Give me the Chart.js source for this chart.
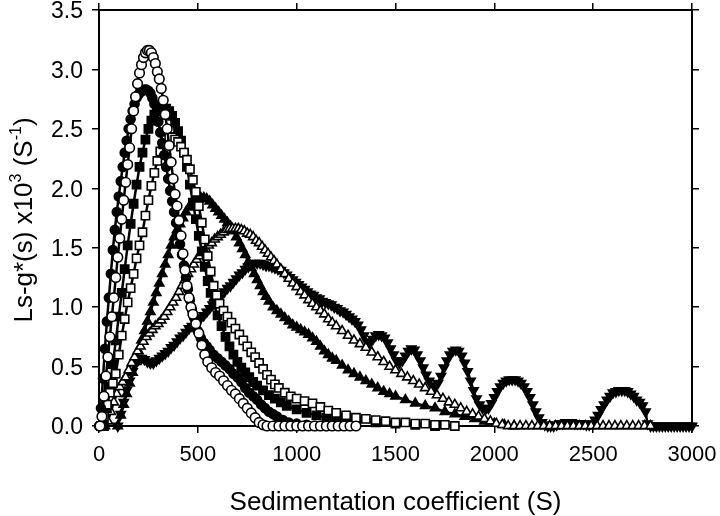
<!doctype html>
<html>
<head>
<meta charset="utf-8">
<title>Sedimentation coefficient distribution</title>
<script src="https://cdn.jsdelivr.net/npm/chart.js@4.4.1/dist/chart.umd.min.js"></script>
<style>
  body { margin: 0; background: #fff; }
  canvas { display: block; }
</style>
</head>
<body>
<canvas id="canvas" width="720" height="516"></canvas>
<script>
// values: [S, Ls-g*(s) x10^3]
var openCircles = [[5,0],[15,0.08],[25,0.25],[35,0.42],[45,0.58],[55,0.75],[65,0.92],[75,1.08],[85,1.25],[95,1.42],[105,1.58],[115,1.74],[125,1.9],[135,2.05],[145,2.2],[155,2.34],[165,2.5],[175,2.65],[185,2.77],[195,2.88],[205,2.97],[215,3.04],[225,3.1],[235,3.14],[245,3.16],[255,3.16],[265,3.14],[275,3.1],[285,3.05],[295,2.98],[305,2.92],[315,2.84],[325,2.74],[335,2.62],[345,2.5],[355,2.36],[365,2.22],[375,2.08],[385,1.95],[395,1.85],[405,1.73],[415,1.6],[425,1.45],[435,1.31],[445,1.18],[455,1.08],[465,1.0],[475,0.94],[490,0.86],[505,0.78],[520,0.68],[535,0.6],[550,0.54],[570,0.49],[590,0.45],[610,0.42],[630,0.38],[650,0.34],[670,0.3],[690,0.27],[710,0.23],[730,0.19],[750,0.15],[770,0.11],[790,0.07],[810,0.03],[830,0.01],[850,0],[880,0],[910,0],[940,0],[970,0],[1000,0],[1030,0],[1060,0],[1090,0],[1120,0],[1150,0],[1180,0],[1210,0],[1240,0],[1270,0],[1300,0]];

var filledCircles = [[0,0],[10,0.15],[20,0.4],[30,0.65],[40,0.88],[50,1.08],[60,1.28],[70,1.48],[80,1.65],[90,1.8],[100,1.93],[110,2.06],[120,2.18],[130,2.3],[140,2.4],[150,2.5],[160,2.58],[170,2.65],[180,2.71],[190,2.76],[200,2.79],[210,2.81],[220,2.82],[230,2.83],[240,2.83],[250,2.82],[260,2.8],[270,2.76],[280,2.71],[290,2.64],[300,2.56],[310,2.47],[320,2.38],[330,2.28],[340,2.18],[350,2.08],[360,1.98],[370,1.89],[380,1.8],[390,1.71],[400,1.62],[410,1.53],[420,1.44],[430,1.35],[440,1.25],[450,1.15],[460,1.06],[470,0.98],[480,0.92],[490,0.86],[500,0.8],[515,0.74],[530,0.7],[545,0.67],[560,0.64],[580,0.6],[600,0.57],[620,0.54],[640,0.51],[660,0.48],[680,0.44],[700,0.41],[720,0.37],[740,0.32],[760,0.28],[780,0.25],[800,0.22],[820,0.18],[840,0.15],[860,0.12],[880,0.1],[900,0.08],[930,0.05],[960,0.03],[1000,0.02],[1050,0.01],[1100,0],[1150,0]];

var filledSquares = [[25,0],[40,0.15],[55,0.33],[70,0.52],[85,0.72],[100,0.92],[115,1.12],[130,1.32],[145,1.52],[160,1.7],[175,1.87],[190,2.03],[205,2.18],[220,2.3],[235,2.41],[250,2.5],[265,2.57],[280,2.62],[295,2.65],[310,2.67],[325,2.67],[340,2.67],[355,2.65],[370,2.61],[385,2.55],[400,2.48],[415,2.4],[430,2.3],[445,2.18],[460,2.03],[475,1.88],[490,1.74],[505,1.6],[520,1.47],[535,1.34],[550,1.22],[565,1.12],[580,1.03],[600,0.93],[620,0.84],[640,0.75],[660,0.67],[680,0.6],[700,0.54],[720,0.49],[740,0.45],[760,0.41],[780,0.37],[800,0.34],[830,0.3],[860,0.26],[890,0.23],[920,0.2],[950,0.17],[1000,0.14],[1050,0.11],[1100,0.09],[1150,0.07],[1200,0.06],[1250,0.05],[1300,0.04],[1400,0.03],[1500,0.02],[1600,0.01],[1700,0]];

var openSquares = [[10,0],[25,0.08],[40,0.18],[55,0.28],[70,0.36],[85,0.44],[100,0.6],[115,0.76],[130,0.9],[145,1.04],[160,1.16],[175,1.28],[190,1.41],[205,1.52],[220,1.63],[235,1.77],[250,1.9],[265,2.02],[280,2.13],[295,2.23],[310,2.31],[325,2.37],[340,2.41],[355,2.43],[370,2.43],[385,2.41],[400,2.39],[415,2.35],[430,2.3],[445,2.24],[460,2.16],[475,2.07],[490,1.97],[505,1.85],[520,1.71],[535,1.57],[550,1.43],[565,1.3],[580,1.18],[595,1.1],[610,1.03],[630,0.97],[650,0.92],[670,0.87],[690,0.82],[710,0.77],[730,0.72],[750,0.67],[770,0.62],[790,0.58],[810,0.53],[830,0.48],[850,0.43],[870,0.39],[890,0.35],[910,0.32],[940,0.28],[970,0.25],[1000,0.23],[1040,0.21],[1080,0.19],[1120,0.16],[1160,0.13],[1200,0.11],[1250,0.09],[1300,0.07],[1350,0.06],[1400,0.05],[1450,0.04],[1500,0.03],[1550,0.03],[1600,0.02],[1650,0.02],[1700,0.01],[1750,0.01],[1800,0]];

var filledTriangles = [[95,0],[110,0.09],[125,0.18],[140,0.27],[155,0.36],[170,0.45],[185,0.54],[200,0.63],[215,0.72],[230,0.8],[245,0.88],[260,0.96],[275,1.04],[290,1.12],[305,1.2],[320,1.28],[335,1.36],[350,1.44],[365,1.52],[380,1.59],[395,1.65],[410,1.7],[425,1.75],[440,1.8],[455,1.84],[470,1.87],[485,1.9],[500,1.91],[515,1.92],[530,1.92],[545,1.91],[560,1.89],[575,1.86],[590,1.83],[605,1.8],[620,1.77],[635,1.74],[650,1.71],[665,1.68],[680,1.64],[695,1.59],[710,1.54],[725,1.49],[740,1.44],[755,1.38],[770,1.33],[785,1.28],[800,1.23],[815,1.18],[830,1.13],[845,1.09],[860,1.05],[880,1.0],[900,0.97],[920,0.94],[940,0.91],[960,0.88],[980,0.85],[1000,0.83],[1020,0.81],[1040,0.79],[1060,0.77],[1080,0.74],[1100,0.71],[1120,0.67],[1140,0.63],[1160,0.6],[1180,0.57],[1200,0.55],[1230,0.51],[1260,0.47],[1290,0.44],[1320,0.41],[1350,0.38],[1380,0.35],[1410,0.32],[1440,0.29],[1470,0.27],[1500,0.25],[1550,0.22],[1600,0.19],[1650,0.17],[1700,0.15],[1750,0.12],[1800,0.1],[1850,0.08],[1900,0.06],[1950,0.04],[2000,0.02],[2050,0.01],[2100,0]];

var openTriangles = [[30,0],[45,0.04],[60,0.12],[75,0.2],[90,0.27],[105,0.33],[120,0.37],[135,0.41],[150,0.47],[165,0.53],[180,0.58],[195,0.63],[210,0.67],[225,0.71],[240,0.75],[255,0.78],[270,0.81],[285,0.84],[300,0.86],[315,0.89],[330,0.92],[345,0.96],[360,1.0],[375,1.04],[390,1.08],[405,1.13],[420,1.18],[435,1.23],[450,1.28],[465,1.32],[480,1.36],[495,1.4],[510,1.43],[525,1.46],[540,1.49],[555,1.52],[570,1.54],[585,1.57],[600,1.59],[615,1.61],[630,1.63],[645,1.65],[660,1.66],[675,1.66],[690,1.66],[705,1.66],[720,1.65],[735,1.64],[750,1.62],[765,1.61],[780,1.59],[795,1.56],[810,1.54],[825,1.51],[840,1.48],[855,1.45],[870,1.42],[885,1.39],[900,1.36],[920,1.32],[940,1.28],[960,1.24],[980,1.2],[1000,1.17],[1020,1.13],[1040,1.1],[1060,1.06],[1080,1.03],[1100,1.0],[1120,0.97],[1140,0.94],[1160,0.9],[1180,0.87],[1200,0.84],[1230,0.8],[1260,0.76],[1290,0.72],[1320,0.69],[1350,0.66],[1380,0.62],[1410,0.58],[1440,0.54],[1470,0.5],[1500,0.47],[1530,0.44],[1560,0.41],[1590,0.38],[1620,0.35],[1650,0.32],[1680,0.29],[1710,0.26],[1740,0.23],[1770,0.2],[1800,0.18],[1830,0.15],[1860,0.12],[1890,0.1],[1920,0.08],[1950,0.06],[1980,0.04],[2010,0.02],[2040,0.01],[2070,0],[2100,0],[2130,0],[2160,0],[2190,0],[2220,0],[2250,0],[2280,0],[2310,0],[2340,0],[2370,0],[2400,0],[2430,0],[2460,0],[2490,0],[2520,0],[2550,0],[2580,0],[2610,0],[2640,0],[2670,0],[2700,0],[2730,0],[2760,0],[2790,0]];

var downTriangles = [[95,0],[110,0.1],[125,0.2],[140,0.3],[155,0.38],[170,0.46],[185,0.52],[200,0.56],[215,0.57],[230,0.56],[245,0.54],[260,0.53],[275,0.53],[290,0.55],[305,0.57],[320,0.59],[335,0.61],[350,0.63],[365,0.66],[380,0.68],[395,0.71],[410,0.74],[425,0.76],[440,0.79],[455,0.82],[470,0.84],[485,0.87],[500,0.89],[515,0.91],[530,0.93],[545,0.96],[560,0.99],[575,1.02],[590,1.05],[605,1.08],[620,1.1],[635,1.13],[650,1.16],[665,1.18],[680,1.21],[695,1.24],[710,1.27],[725,1.29],[740,1.32],[755,1.34],[770,1.36],[785,1.37],[800,1.37],[815,1.37],[830,1.36],[845,1.35],[860,1.35],[875,1.34],[890,1.33],[905,1.32],[920,1.31],[935,1.29],[950,1.27],[965,1.25],[980,1.23],[995,1.21],[1010,1.19],[1025,1.17],[1040,1.15],[1055,1.13],[1070,1.11],[1085,1.1],[1100,1.08],[1115,1.07],[1130,1.05],[1145,1.04],[1160,1.03],[1175,1.02],[1190,1.0],[1205,0.99],[1220,0.97],[1235,0.96],[1250,0.94],[1265,0.92],[1280,0.9],[1295,0.88],[1310,0.85],[1325,0.81],[1340,0.76],[1355,0.71],[1370,0.7],[1385,0.73],[1400,0.76],[1415,0.77],[1430,0.76],[1445,0.74],[1460,0.7],[1475,0.65],[1490,0.6],[1505,0.55],[1520,0.53],[1535,0.55],[1550,0.59],[1565,0.63],[1580,0.65],[1595,0.64],[1610,0.6],[1625,0.55],[1640,0.49],[1655,0.43],[1670,0.38],[1685,0.34],[1700,0.33],[1715,0.36],[1730,0.42],[1745,0.49],[1760,0.55],[1775,0.6],[1790,0.63],[1805,0.64],[1820,0.63],[1835,0.59],[1850,0.53],[1865,0.46],[1880,0.38],[1895,0.3],[1910,0.23],[1925,0.18],[1940,0.15],[1955,0.14],[1970,0.15],[1985,0.19],[2000,0.24],[2015,0.29],[2030,0.33],[2045,0.36],[2060,0.38],[2075,0.39],[2090,0.39],[2105,0.39],[2120,0.38],[2135,0.36],[2150,0.33],[2165,0.29],[2180,0.24],[2195,0.18],[2210,0.12],[2225,0.07],[2240,0.03],[2255,0.01],[2270,0],[2285,0],[2300,0],[2315,0.01],[2330,0.02],[2345,0.02],[2360,0.03],[2375,0.03],[2390,0.03],[2405,0.02],[2420,0.02],[2435,0.02],[2450,0.02],[2465,0.01],[2480,0.01],[2495,0.02],[2510,0.05],[2525,0.09],[2540,0.14],[2555,0.18],[2570,0.22],[2585,0.25],[2600,0.28],[2615,0.29],[2630,0.3],[2645,0.3],[2660,0.3],[2675,0.29],[2690,0.27],[2705,0.25],[2720,0.22],[2735,0.2],[2750,0.17],[2765,0.12],[2775,0.02],[2790,0],[2805,0],[2820,0],[2835,0],[2850,0],[2865,0],[2880,0],[2895,0],[2910,0],[2925,0],[2940,0],[2955,0],[2970,0],[2985,0],[3000,0]];

var xTicks = [0, 500, 1000, 1500, 2000, 2500, 3000];
var yTicks = [0.0, 0.5, 1.0, 1.5, 2.0, 2.5, 3.0, 3.5];
var xTitle = 'Sedimentation coefficient (S)';
var yTitleParts = [['Ls-g*(s) x10', false], ['3', true], [' (S', false], ['-1', true], [')', false]];

var FONT = '"Liberation Sans", Arial, Helvetica, sans-serif';

function pts(a) {
    return a.map(function (p) { return {x: p[0], y: p[1]}; });
}

function series(data, style, filled, radius, rotation) {
    return {
        data: pts(data),
        showLine: true,
        borderColor: '#000',
        borderWidth: 2.5,
        pointStyle: style,
        pointRadius: radius,
        pointRotation: rotation || 0,
        pointBackgroundColor: filled ? '#000' : '#fff',
        pointBorderColor: '#000',
        pointBorderWidth: 1.6,
        pointHoverRadius: radius,
        clip: false
    };
}

// titles: x title and y title with superscripts
var axisTitles = {
    id: 'axisTitles',
    afterDraw: function (chart) {
        var ctx = chart.ctx, a = chart.chartArea;
        ctx.save();
        ctx.fillStyle = '#000';
        ctx.textBaseline = 'alphabetic';
        ctx.font = '26px ' + FONT;
        ctx.textAlign = 'center';
        ctx.fillText(xTitle, (a.left + a.right) / 2, 510);

        var big = '26px ' + FONT, small = '16px ' + FONT;
        var total = 0;
        yTitleParts.forEach(function (p) {
            ctx.font = p[1] ? small : big;
            total += ctx.measureText(p[0]).width;
        });
        ctx.translate(32, 220);
        ctx.rotate(-Math.PI / 2);
        ctx.textAlign = 'left';
        var x = -total / 2;
        yTitleParts.forEach(function (p) {
            ctx.font = p[1] ? small : big;
            ctx.fillText(p[0], x, p[1] ? -11 : 0);
            x += ctx.measureText(p[0]).width;
        });
        ctx.restore();
    }
};

var tickGrid = {
    drawOnChartArea: false,
    drawTicks: true,
    tickLength: 7,
    color: '#000',
    lineWidth: 1.5
};

// fixed box sizes so the plot area sits where it does in the picture
function fixBox(w, h) {
    return function (s) {
        if (w !== null) s.width = w;
        if (h !== null) s.height = h;
        s.paddingTop = 0; s.paddingBottom = 0;
        s.paddingLeft = 0; s.paddingRight = 0;
    };
}

var config = {
    type: 'scatter',
    data: {
        datasets: [
            series(openCircles, 'circle', false, 4.8),
            series(filledCircles, 'circle', true, 4.5),
            series(openSquares, 'rect', false, 5.8),
            series(filledSquares, 'rect', true, 5.8),
            series(openTriangles, 'triangle', false, 5.3),
            series(filledTriangles, 'triangle', true, 5.3),
            series(downTriangles, 'triangle', true, 5.3, 180)
        ]
    },
    options: {
        responsive: false,
        animation: false,
        events: [],
        layout: { padding: 0 },
        plugins: {
            legend: { display: false },
            tooltip: { enabled: false }
        },
        scales: {
            x: {
                type: 'linear',
                position: 'bottom',
                min: 0, max: 3000,
                afterBuildTicks: function (s) { s.ticks = xTicks.map(function (v) { return {value: v}; }); },
                afterFit: fixBox(null, 90),
                grid: tickGrid,
                border: { color: '#000', width: 2 },
                ticks: {
                    color: '#000', padding: 9, maxRotation: 0,
                    font: { family: FONT, size: 22 },
                    callback: function (v) { return String(v); }
                }
            },
            xTop: {
                type: 'linear',
                position: 'top',
                min: 0, max: 3000,
                afterBuildTicks: function (s) { s.ticks = xTicks.map(function (v) { return {value: v}; }); },
                afterFit: fixBox(null, 10),
                grid: tickGrid,
                border: { color: '#000', width: 2 },
                ticks: { display: false }
            },
            y: {
                type: 'linear',
                position: 'left',
                min: 0, max: 3.5,
                afterBuildTicks: function (s) { s.ticks = yTicks.map(function (v) { return {value: v}; }); },
                afterFit: fixBox(99, null),
                grid: tickGrid,
                border: { color: '#000', width: 2 },
                ticks: {
                    color: '#000', padding: 9, labelOffset: 2,
                    font: { family: FONT, size: 23 },
                    callback: function (v) { return v.toFixed(1); }
                }
            },
            yRight: {
                type: 'linear',
                position: 'right',
                min: 0, max: 3.5,
                afterBuildTicks: function (s) { s.ticks = yTicks.map(function (v) { return {value: v}; }); },
                afterFit: fixBox(28, null),
                grid: tickGrid,
                border: { color: '#000', width: 2 },
                ticks: { display: false }
            }
        }
    },
    plugins: [axisTitles]
};

window.myChart = new Chart(document.getElementById('canvas'), config);
</script>
</body>
</html>
